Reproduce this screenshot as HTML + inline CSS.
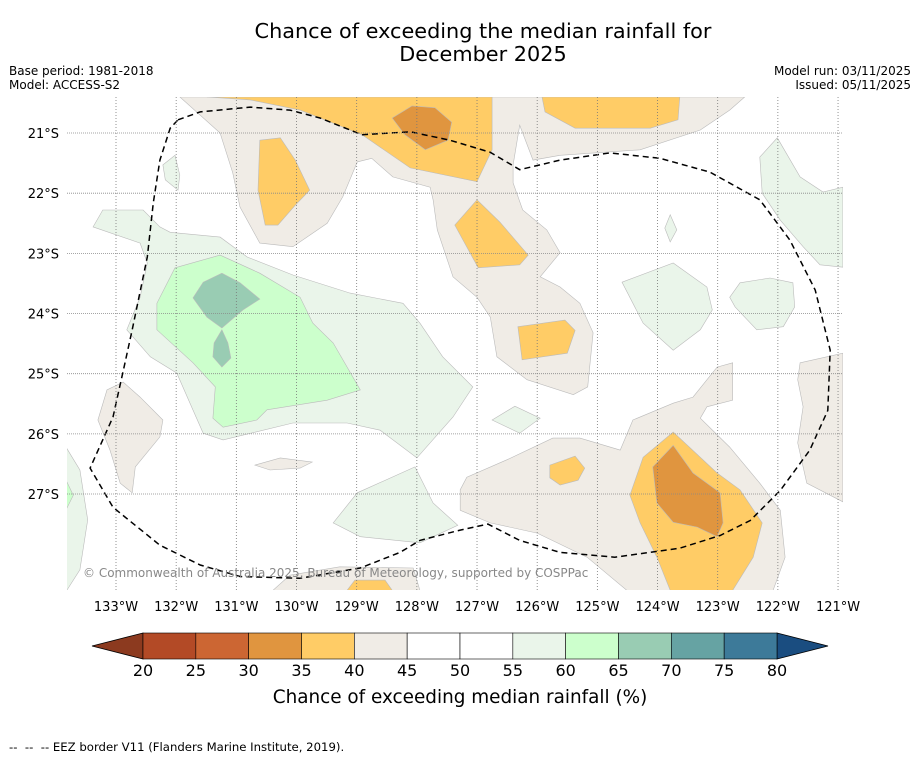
<!DOCTYPE html>
<html><head><meta charset="utf-8"><style>
body{margin:0;background:#fff;font-family:"Liberation Sans","DejaVu Sans",sans-serif}
svg text{font-family:"DejaVu Sans","Liberation Sans",sans-serif}
</style></head><body>
<svg id="chart" width="919" height="758" xmlns="http://www.w3.org/2000/svg">
<text x="483" y="38" font-size="20.8" text-anchor="middle">Chance of exceeding the median rainfall for</text>
<text x="483" y="61" font-size="20.8" text-anchor="middle">December 2025</text>
<text x="9" y="75" font-size="12">Base period: 1981-2018</text>
<text x="9" y="89" font-size="12">Model: ACCESS-S2</text>
<text x="911" y="75" font-size="12" text-anchor="end">Model run: 03/11/2025</text>
<text x="911" y="89" font-size="12" text-anchor="end">Issued: 05/11/2025</text>
<defs><clipPath id="mapclip"><rect x="67" y="97" width="776" height="493"/></clipPath></defs>
<g id="map" clip-path="url(#mapclip)"></g>
<g id="grid"></g>
<g id="axes"></g>
<text x="83" y="577" font-size="12" fill="#888">© Commonwealth of Australia 2025, Bureau of Meteorology, supported by COSPPac</text>
<g id="cbar"></g>
<text x="460" y="703" font-size="18.4" text-anchor="middle">Chance of exceeding median rainfall (%)</text>
<text x="9" y="751" font-size="11.7" xml:space="preserve">--  --  -- EEZ border V11 (Flanders Marine Institute, 2019).</text>
</svg>
<script>
const lonTicks=[-133,-132,-131,-130,-129,-128,-127,-126,-125,-124,-123,-122,-121];
const latTicks=[-21,-22,-23,-24,-25,-26,-27];
const cbarBounds=[20,25,30,35,40,45,50,55,60,65,70,75,80];
const cbarColors=["#b34a26","#cc6633","#e0953f","#ffcc66","#f0ece6","#ffffff","#ffffff","#eaf5ea","#ccffcc","#99ccb3","#66a3a3","#3d7a99"];
const cbarLow="#8c3a1f", cbarHigh="#1a4d80";
const lvlColor={35:"#e0953f",40:"#ffcc66",45:"#f0ece6",55:"#eaf5ea",60:"#ccffcc",65:"#99ccb3"};
const beigeA=[-131.94,-20.40,-131.27,-21.00,-131.06,-21.66,-130.94,-22.23,-130.61,-22.83,-130.06,-22.89,-129.49,-22.50,-129.23,-22.06,-128.99,-21.48,-128.75,-21.42,-128.40,-21.73,-127.78,-21.90,-127.73,-22.11,-127.66,-22.61,-127.40,-23.39,-127.00,-23.73,-126.78,-24.06,-126.67,-24.72,-126.17,-25.10,-125.40,-25.35,-125.16,-25.22,-125.07,-24.32,-125.29,-23.83,-125.62,-23.56,-125.95,-23.39,-125.62,-22.99,-125.84,-22.61,-126.24,-22.28,-126.40,-21.83,-126.40,-21.53,-126.29,-20.87,-126.07,-21.45,-125.62,-21.37,-124.29,-21.28,-123.29,-20.95,-122.80,-20.62,-122.55,-20.40];
const beigeBR=[-127.28,-26.93,-127.17,-26.72,-126.50,-26.43,-125.74,-26.07,-125.29,-26.07,-124.62,-26.27,-124.41,-25.77,-123.74,-25.49,-123.41,-25.39,-123.01,-24.89,-122.75,-24.82,-122.75,-25.44,-123.18,-25.55,-123.29,-25.74,-122.80,-26.22,-122.30,-26.82,-121.96,-27.27,-121.88,-28.05,-122.08,-28.60,-124.51,-28.60,-125.17,-28.05,-126.00,-27.65,-126.78,-27.48,-127.28,-27.27];
const beigeRight=[-121.63,-24.82,-120.92,-24.66,-120.92,-27.13,-121.52,-26.82,-121.67,-26.15,-121.58,-25.55,-121.67,-25.10];
const beigeLeft=[-133.30,-25.77,-133.15,-25.27,-132.88,-25.14,-132.60,-25.39,-132.22,-25.77,-132.27,-26.05,-132.68,-26.55,-132.73,-26.98,-132.93,-26.82,-133.10,-26.27];
const beigeSmall=[-130.69,-26.52,-130.27,-26.40,-129.74,-26.47,-129.94,-26.57,-130.44,-26.60];
const beigeBottom=[-130.39,-28.60,-130.11,-28.35,-129.28,-28.21,-128.06,-28.23,-127.95,-28.60];
const orangeTop=[-131.49,-20.40,-130.77,-20.45,-129.94,-20.62,-128.91,-21.03,-128.11,-21.58,-127.00,-21.81,-126.75,-21.28,-126.75,-20.40];
const orangeTopRight=[-125.92,-20.40,-123.63,-20.40,-123.66,-20.78,-124.12,-20.92,-125.37,-20.92,-125.87,-20.65];
const orangeMid=[-127.37,-22.53,-127.00,-22.11,-126.62,-22.48,-126.15,-23.03,-126.29,-23.19,-126.98,-23.24];
const orangeSmall=[-126.32,-24.22,-125.54,-24.11,-125.37,-24.28,-125.50,-24.66,-126.25,-24.77];
const orangeLeft=[-130.61,-21.12,-130.27,-21.08,-130.02,-21.45,-129.78,-21.95,-130.02,-22.20,-130.31,-22.53,-130.52,-22.53,-130.64,-21.95];
const orangeBR=[-124.46,-27.02,-124.24,-26.39,-123.74,-25.97,-123.01,-26.65,-122.63,-26.93,-122.26,-27.48,-122.41,-28.05,-122.75,-28.60,-123.79,-28.60,-124.01,-28.05,-124.29,-27.48];
const orangeSmall2=[-125.79,-26.52,-125.37,-26.37,-125.21,-26.57,-125.32,-26.77,-125.62,-26.85,-125.79,-26.73];
const orangeBottom=[-129.16,-28.60,-129.03,-28.43,-128.53,-28.43,-128.41,-28.60];
const darkTop=[-128.41,-20.75,-128.08,-20.55,-127.70,-20.58,-127.42,-20.82,-127.48,-21.12,-127.86,-21.28,-128.20,-21.03];
const darkBR=[-124.08,-26.55,-123.74,-26.19,-123.41,-26.65,-122.96,-26.98,-122.91,-27.48,-123.01,-27.71,-123.34,-27.55,-123.74,-27.47,-124.01,-27.15];
const greenBig=[-133.38,-22.56,-133.22,-22.28,-132.55,-22.28,-132.27,-22.56,-132.10,-22.65,-131.27,-22.73,-130.82,-23.06,-130.06,-23.36,-129.11,-23.66,-128.23,-23.83,-127.95,-24.16,-127.57,-24.72,-127.07,-25.22,-127.40,-25.72,-128.00,-26.40,-128.61,-25.94,-129.16,-25.82,-130.06,-25.82,-131.22,-26.10,-131.55,-25.99,-131.77,-25.49,-131.99,-24.99,-132.43,-24.72,-132.82,-24.27,-132.60,-23.73,-132.48,-23.16,-132.60,-22.83];
const greenSmallLeft=[-132.22,-21.53,-132.02,-21.37,-131.94,-21.70,-131.97,-21.95,-132.18,-21.78];
const greenBottomMid=[-129.39,-27.48,-128.99,-26.98,-128.03,-26.55,-127.73,-27.15,-127.32,-27.52,-127.95,-27.81,-128.94,-27.71];
const greenRight1=[-124.59,-23.48,-123.74,-23.16,-123.18,-23.56,-123.09,-23.94,-123.29,-24.27,-123.74,-24.61,-124.24,-24.16];
const greenRight2=[-122.80,-23.73,-122.63,-23.49,-122.13,-23.41,-121.75,-23.49,-121.72,-23.89,-121.91,-24.22,-122.35,-24.27,-122.71,-23.89];
const greenTopRight=[-122.30,-21.40,-122.01,-21.08,-121.63,-21.73,-121.25,-21.98,-120.92,-21.90,-120.92,-23.23,-121.30,-23.19,-121.58,-22.89,-121.96,-22.45,-122.26,-22.00];
const greenKite=[-123.79,-22.36,-123.68,-22.61,-123.79,-22.81,-123.88,-22.58];
const greenMidSmall=[-126.75,-25.77,-126.37,-25.54,-125.95,-25.74,-126.29,-25.99];
const greenLeftEdge=[-133.85,-26.19,-133.60,-26.60,-133.47,-27.43,-133.60,-28.26,-133.85,-28.65];
const brightGreen=[-132.02,-23.24,-131.27,-23.03,-130.61,-23.33,-129.94,-23.73,-129.73,-24.16,-129.39,-24.49,-128.94,-25.27,-129.49,-25.44,-130.49,-25.60,-130.66,-25.77,-131.22,-25.89,-131.39,-25.74,-131.35,-25.22,-131.72,-24.82,-132.32,-24.27,-132.32,-23.83];
const brightLeftEdge=[-133.85,-26.73,-133.71,-27.02,-133.85,-27.30];
const teal1=[-131.72,-23.74,-131.55,-23.48,-131.24,-23.33,-130.94,-23.49,-130.61,-23.76,-130.89,-23.94,-131.24,-24.24,-131.49,-24.06];
const teal2=[-131.24,-24.27,-131.14,-24.49,-131.09,-24.74,-131.24,-24.89,-131.39,-24.72,-131.37,-24.49];
const eezBorder=[-131.97,-20.78,-131.60,-20.65,-130.77,-20.57,-130.11,-20.62,-129.61,-20.75,-128.91,-21.03,-128.11,-20.98,-127.45,-21.12,-126.78,-21.32,-126.29,-21.61,-125.62,-21.45,-124.79,-21.33,-123.96,-21.42,-123.13,-21.65,-122.30,-22.11,-121.80,-22.78,-121.38,-23.61,-121.13,-24.61,-121.17,-25.61,-121.47,-26.27,-121.96,-26.94,-122.46,-27.44,-122.96,-27.69,-123.63,-27.90,-124.71,-28.05,-125.62,-27.97,-126.29,-27.77,-126.82,-27.50,-127.28,-27.60,-127.95,-27.77,-128.28,-27.97,-128.94,-28.23,-129.94,-28.40,-130.94,-28.37,-131.60,-28.18,-132.27,-27.85,-133.05,-27.22,-133.43,-26.57,-133.05,-25.72,-132.85,-24.82,-132.73,-24.27,-132.48,-23.06,-132.38,-22.16,-132.27,-21.45,-132.10,-20.92,-131.97,-20.78];
const regions=[
 ["beige-top-region",45,beigeA],["beige-bottom-right-region",45,beigeBR],["beige-right-edge-region",45,beigeRight],["beige-left-region",45,beigeLeft],["beige-small-region",45,beigeSmall],["beige-bottom-region",45,beigeBottom],
 ["orange-top-region",40,orangeTop],["orange-top-right-region",40,orangeTopRight],["orange-mid-region",40,orangeMid],["orange-small-region",40,orangeSmall],["orange-left-region",40,orangeLeft],["orange-bottom-right-region",40,orangeBR],["orange-small-2-region",40,orangeSmall2],["orange-bottom-region",40,orangeBottom],
 ["dark-orange-top-region",35,darkTop],["dark-orange-bottom-right-region",35,darkBR],
 ["green-big-region",55,greenBig],["green-small-left-region",55,greenSmallLeft],["green-bottom-mid-region",55,greenBottomMid],["green-right-1-region",55,greenRight1],["green-right-2-region",55,greenRight2],["green-top-right-region",55,greenTopRight],["green-kite-region",55,greenKite],["green-mid-small-region",55,greenMidSmall],["green-left-edge-region",55,greenLeftEdge],
 ["bright-green-region",60,brightGreen],["bright-green-left-edge",60,brightLeftEdge],
 ["teal-region-1",65,teal1],["teal-region-2",65,teal2]
];
const NS="http://www.w3.org/2000/svg";
const x0=116, pxPerDeg=60.17, y0=133;
function xScale(lon){return x0+(lon+133)*pxPerDeg;}
function yScale(lat){return y0+(-21-lat)*pxPerDeg;}
function mk(tag,parent,attrs){const e=document.createElementNS(NS,tag);for(const k in attrs)e.setAttribute(k,attrs[k]);parent.appendChild(e);return e;}
function pts(arr){let s="";for(let i=0;i<arr.length;i+=2)s+=xScale(arr[i]).toFixed(1)+","+yScale(arr[i+1]).toFixed(1)+" ";return s;}
const map=document.getElementById('map');
regions.forEach(r=>{
 const p=mk('polygon',map,{points:pts(r[2]),fill:lvlColor[r[1]],stroke:"#bbb","stroke-width":0.6});
 
 
});
const eez=mk('polyline',map,{points:pts(eezBorder),fill:"none",stroke:"#000","stroke-width":1.5,"stroke-dasharray":"6,4"});


const grid=document.getElementById('grid'), axes=document.getElementById('axes');
lonTicks.forEach(l=>{
 const x=xScale(l);
 const g=mk('line',grid,{x1:x,x2:x,y1:97,y2:590,stroke:"#777","stroke-width":0.8,"stroke-dasharray":"1,2"});
 
 
 const t=mk('text',axes,{x:x,y:611,"font-size":13,"text-anchor":"middle"});
 t.textContent=(-l)+"°W";
 
 
});
latTicks.forEach(l=>{
 const y=yScale(l);
 const g=mk('line',grid,{x1:67,x2:843,y1:y,y2:y,stroke:"#888","stroke-width":0.8,"stroke-dasharray":"1,1"});
 
 
 const t=mk('text',axes,{x:59,y:y+5,"font-size":13,"text-anchor":"end"});
 t.textContent=(-l)+"°S";
 
 
});
const cb=document.getElementById('cbar');
const cbX0=143, cbX1=777, cbY=633, cbH=26;
function cbScale(v){return cbX0+(v-20)/60*(cbX1-cbX0);}
const la=mk('polygon',cb,{points:`${cbX0},${cbY} ${cbX0},${cbY+cbH} 92,${cbY+cbH/2}`,fill:cbarLow,stroke:"#000","stroke-width":0.8});


const ra=mk('polygon',cb,{points:`${cbX1},${cbY} ${cbX1},${cbY+cbH} 828,${cbY+cbH/2}`,fill:cbarHigh,stroke:"#000","stroke-width":0.8});


cbarColors.forEach((c,i)=>{
 const a=cbScale(cbarBounds[i]), b=cbScale(cbarBounds[i+1]);
 const r=mk('rect',cb,{x:a,y:cbY,width:b-a,height:cbH,fill:c,stroke:"#000","stroke-width":0.6});
 
 
});
cbarBounds.forEach(v=>{
 const t=mk('text',cb,{x:cbScale(v),y:676,"font-size":16,"text-anchor":"middle"});
 t.textContent=v;
 
 
});
</script>
</body></html>
